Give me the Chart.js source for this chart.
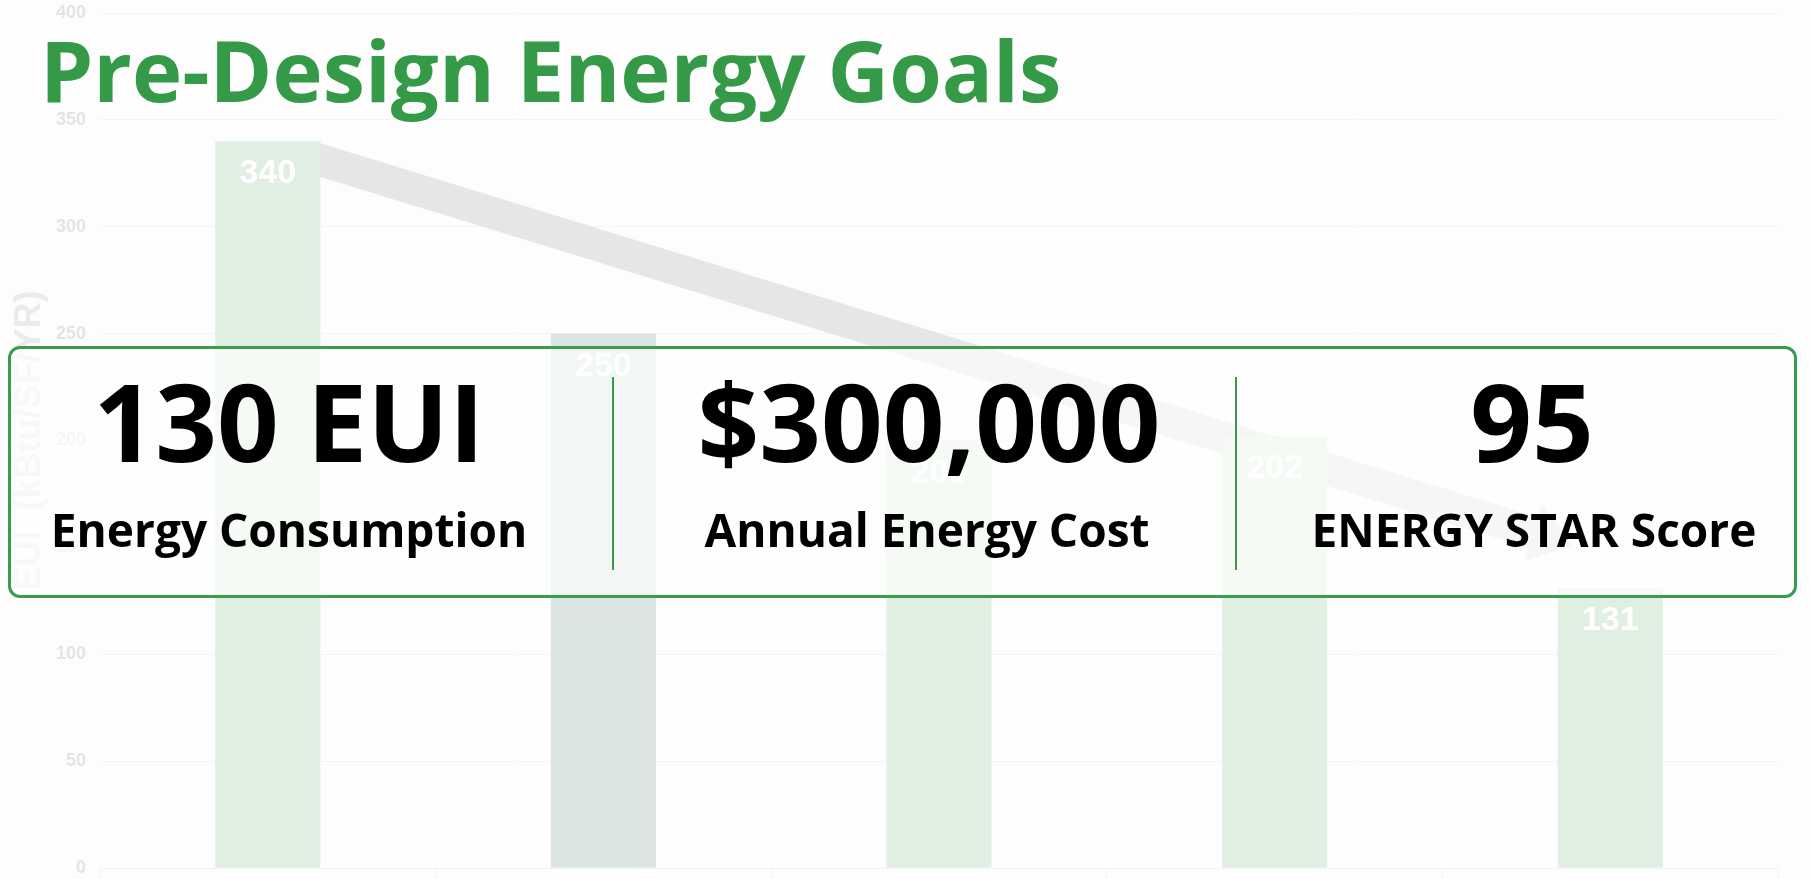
<!DOCTYPE html>
<html>
<head>
<meta charset="utf-8">
<script src="https://cdn.jsdelivr.net/npm/chart.js@4.4.1/dist/chart.umd.min.js"></script>
<style>
  html, body { margin: 0; padding: 0; background: #fdfdfd; overflow: hidden; }
  #wrap { position: relative; width: 1810px; height: 879px; }
  #chart { position: absolute; left: 0; top: 0; }
  .title { position: absolute; left: 40px; top: 27px; font: 700 85px/1 'Open Sans'; color: #349a47; white-space: nowrap; }
  .box { position: absolute; left: 8px; top: 346px; width: 1789px; height: 252px; box-sizing: border-box;
         border: 3px solid #3c9c4c; border-radius: 12px; background: rgba(255,255,255,0.65); }
  .sep { position: absolute; top: 377px; height: 193px; width: 2px; background: #3a9a48; }
  .big, .sub { position: absolute; transform: translateX(-50%); white-space: nowrap; color: #000; }
  .big { top: 367px; font: 700 108px/1 'Open Sans'; }
  .sub { top: 506px; font: 700 46px/1 'Open Sans'; }
</style>
</head>
<body>
<div id="wrap">
  <canvas id="chart" width="1810" height="879"></canvas>
  <div class="title">Pre-Design Energy Goals</div>
  <div class="box"></div>
  <div class="sep" style="left:612px"></div>
  <div class="sep" style="left:1235px"></div>
  <div class="big" style="left:289px">130 EUI</div>
  <div class="sub" style="left:289px">Energy Consumption</div>
  <div class="big" style="left:929px">$300,000</div>
  <div class="sub" style="left:927px">Annual Energy Cost</div>
  <div class="big" style="left:1532px">95</div>
  <div class="sub" style="left:1534px">ENERGY STAR Score</div>
</div>
<script>
const categories = ['1', '2', '3', '4', '5'];
const euiValues = [340, 250, 200, 202, 131];
const barColors = ['#e1efe2', '#dbe5e1', '#e1efe2', '#e1efe2', '#e1efe2'];
// trend arrow, x in category index units, y in EUI
const trendX = [0.14, 3.77];
const trendY = [332, 157];

const barLabels = {
	id: 'barLabels',
	afterDatasetsDraw(chart) {
		const ctx = chart.ctx;
		// arrow head at the end of the trend line
		const pts = chart.getDatasetMeta(1).data;
		const a = pts[pts.length - 2], b = pts[pts.length - 1];
		const ang = Math.atan2(b.y - a.y, b.x - a.x);
		const len = 42, half = 30;
		ctx.save();
		ctx.fillStyle = '#e6e6e6';
		ctx.translate(b.x, b.y);
		ctx.rotate(ang);
		ctx.beginPath();
		ctx.moveTo(0, -half);
		ctx.lineTo(len, 0);
		ctx.lineTo(0, half);
		ctx.closePath();
		ctx.fill();
		ctx.restore();

		const bars = chart.getDatasetMeta(0).data;
		ctx.save();
		ctx.fillStyle = '#ffffff';
		ctx.font = 'bold 34px "Liberation Sans", Arial';
		ctx.textAlign = 'center';
		ctx.textBaseline = 'alphabetic';
		bars.forEach((bar, i) => {
			ctx.fillText(String(euiValues[i]), bar.x, bar.y + 42);
		});
		ctx.restore();
	}
};

const ctx = document.getElementById('chart').getContext('2d');
const chart = new Chart(ctx, {
	type: 'bar',
	data: {
		labels: categories,
		datasets: [{
			data: euiValues,
			backgroundColor: barColors,
			borderWidth: 0,
			grouped: false,
			categoryPercentage: 1,
			barPercentage: 0.313,
			order: 1
		}, {
			type: 'line',
			xAxisID: 'x2',
			data: trendX.map((x, i) => ({ x: x, y: trendY[i] })),
			borderColor: '#e6e6e6',
			borderWidth: 32,
			borderCapStyle: 'butt',
			pointRadius: 0,
			tension: 0,
			order: 2
		}]
	},
	options: {
		responsive: false,
		devicePixelRatio: 1,
		animation: false,
		layout: { padding: { top: 13, right: 32, bottom: 0, left: 0 } },
		plugins: {
			legend: { display: false },
			tooltip: { enabled: false }
		},
		scales: {
			x: {
				ticks: { display: false },
				grid: { drawOnChartArea: false, color: '#f2f2f2', tickLength: 10 },
				border: { color: '#f2f2f2' },
				afterFit(scale) { scale.height = 11; }
			},
			x2: {
				type: 'linear',
				display: false,
				offset: false,
				min: -0.5,
				max: 4.5
			},
			y: {
				min: 0,
				max: 400,
				ticks: {
					stepSize: 50,
					color: '#e4e4e4',
					padding: 14,
					font: { family: '"Liberation Sans", Arial', size: 18, weight: 'bold' }
				},
				grid: { color: '#f4f4f4', drawTicks: false },
				border: { display: false },
				title: {
					display: true,
					text: 'EUI  (kBtu/SF/YR)',
					color: '#ebebeb',
					padding: { top: 8, bottom: 0 },
					font: { family: '"Liberation Sans", Arial', size: 36, weight: 'bold' }
				},
				afterFit(scale) {
					scale.width = 100;
					scale.paddingTop = 0;
					scale.paddingBottom = 0;
				}
			}
		}
	},
	plugins: [barLabels]
});
</script>
</body>
</html>
